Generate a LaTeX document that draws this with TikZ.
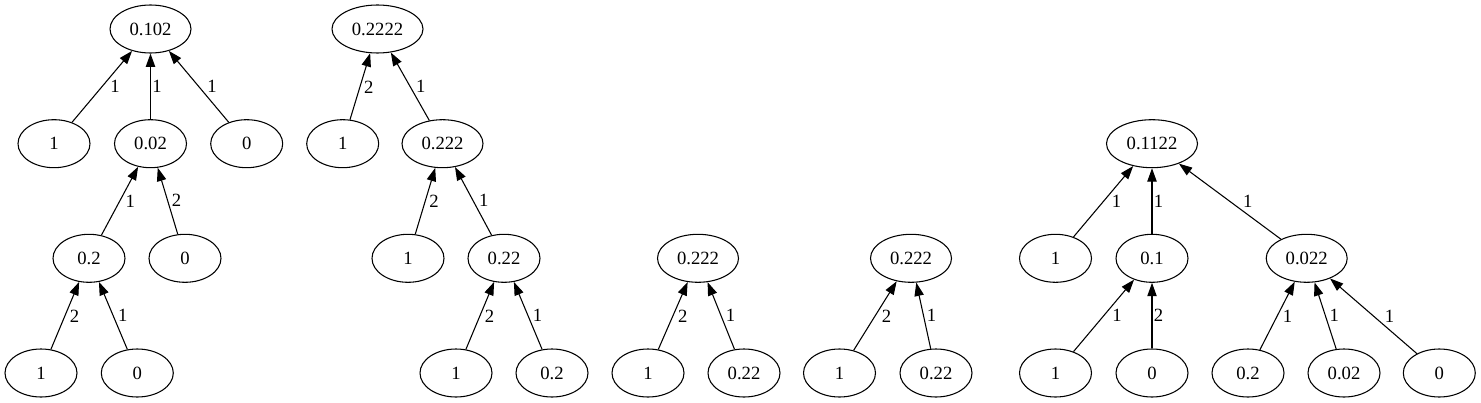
\documentclass[tikz,border=0pt]{standalone}
\usepackage{fontspec}
\setmainfont{Liberation Serif}
\usetikzlibrary{arrows.meta,shapes.geometric}

\tikzset{
  num/.style={draw, ellipse, line width=0.8pt, minimum width=54pt, minimum height=36pt, inner sep=0pt},
  numw/.style={num, minimum width=60.75pt},
  numww/.style={num, minimum width=68.25pt},
  dep/.style={draw, line width=0.8pt, -{Triangle[length=10pt,width=7pt]}, auto=right},
  wt/.style={inner sep=1pt},
  wl/.style={wt, pos=0.61}, % child sits left of its parent
  wr/.style={wt, pos=0.39}, % child sits right of its parent
  wv/.style={wt, pos=0.5},  % straight up
}

\begin{document}
\begin{tikzpicture}[x=0.75pt, y=-0.75pt, font=\fontsize{14}{16}\selectfont]
    \useasboundingbox (0,0) rectangle (1481,403);

    % Heights of the four ranks
    \def\yA{29}
    \def\yB{143.7}
    \def\yC{258.3}
    \def\yD{373}

    % First tree
    \node[numw] (a0) at (150.5,\yA) {0.102};
    \node[num] (a1) at (54,\yB) {1};
    \node[num] (a2) at (150.5,\yB) {0.02};
    \node[num] (a3) at (246.7,\yB) {0};
    \node[num] (a4) at (89,\yC) {0.2};
    \node[num] (a5) at (185,\yC) {0};
    \node[num] (a6) at (41,\yD) {1};
    \node[num] (a7) at (137.3,\yD) {0};

    \draw[dep] (a1) -- node[wl] {1} (a0);
    \draw[dep] (a2) -- node[wv] {1} (a0);
    \draw[dep] (a3) -- node[wr] {1} (a0);
    \draw[dep] (a4) -- node[wl] {1} (a2);
    \draw[dep] (a5) -- node[wr] {2} (a2);
    \draw[dep] (a6) -- node[wl] {2} (a4);
    \draw[dep] (a7) -- node[wr] {1} (a4);

    % Second tree
    \node[numww] (b0) at (377.5,\yA) {0.2222};
    \node[num] (b1) at (342.7,\yB) {1};
    \node[numw] (b2) at (442.5,\yB) {0.222};
    \node[num] (b3) at (408,\yC) {1};
    \node[num] (b4) at (504,\yC) {0.22};
    \node[num] (b5) at (456,\yD) {1};
    \node[num] (b6) at (552,\yD) {0.2};

    \draw[dep] (b1) -- node[wl] {2} (b0);
    \draw[dep] (b2) -- node[wr] {1} (b0);
    \draw[dep] (b3) -- node[wl] {2} (b2);
    \draw[dep] (b4) -- node[wr] {1} (b2);
    \draw[dep] (b5) -- node[wl] {2} (b4);
    \draw[dep] (b6) -- node[wr] {1} (b4);

    % Third tree
    \node[numw] (c0) at (698,\yC) {0.222};
    \node[num] (c1) at (648,\yD) {1};
    \node[num] (c2) at (744,\yD) {0.22};

    \draw[dep] (c1) -- node[wl] {2} (c0);
    \draw[dep] (c2) -- node[wr] {1} (c0);

    % Fourth tree
    \node[numw] (d0) at (911,\yC) {0.222};
    \node[num] (d1) at (839.5,\yD) {1};
    \node[num] (d2) at (936,\yD) {0.22};

    \draw[dep] (d1) -- node[wl] {2} (d0);
    \draw[dep] (d2) -- node[wr] {1} (d0);

    % Fifth tree
    \node[numww] (e0) at (1152,\yB) {0.1122};
    \node[num] (e1) at (1055.5,\yC) {1};
    \node[num] (e2) at (1152,\yC) {0.1};
    \node[numw] (e3) at (1306.7,\yC) {0.022};
    \node[num] (e4) at (1055.5,\yD) {1};
    \node[num] (e5) at (1152,\yD) {0};
    \node[num] (e6) at (1248,\yD) {0.2};
    \node[num] (e7) at (1344,\yD) {0.02};
    \node[num] (e8) at (1439.3,\yD) {0};

    \draw[dep] (e1) -- node[wl] {1} (e0);
    \draw[dep] (e2) -- node[wv] {1} (e0);
    \draw[dep] (e3) -- node[wr] {1} (e0);
    \draw[dep] (e4) -- node[wl] {1} (e2);
    \draw[dep] (e5) -- node[wv] {2} (e2);
    \draw[dep] (e6) -- node[wl] {1} (e3);
    \draw[dep] (e7) -- node[wr] {1} (e3);
    \draw[dep] (e8) -- node[wr] {1} (e3);

\end{tikzpicture}
\end{document}
